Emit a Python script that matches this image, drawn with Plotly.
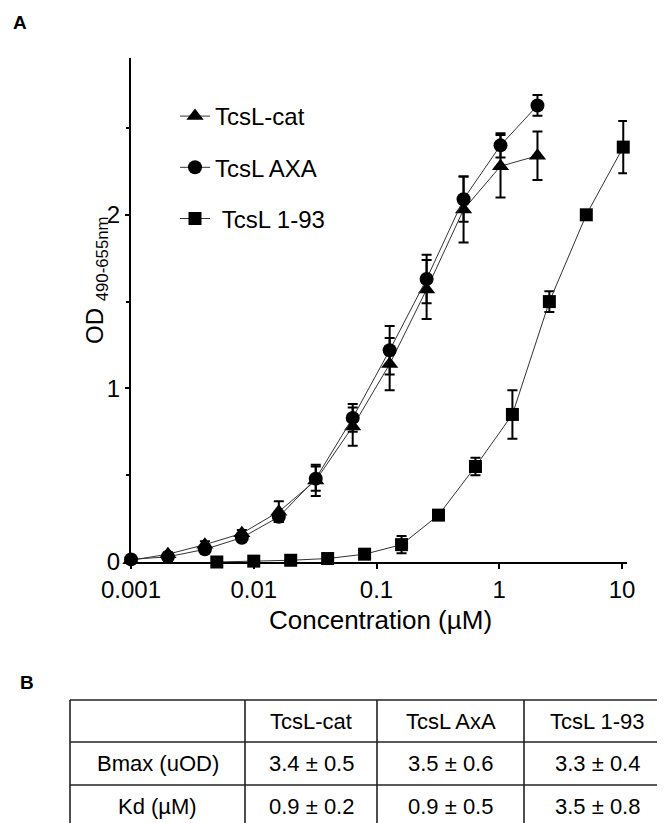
import plotly.graph_objects as go

# The page body adds an 8 px margin, so the figure is drawn 8 px in from the corner.
OFF = 8
W, H = 665 - OFF, 823 - OFF

# ---------------- data ----------------
conc_cat = [0.001, 0.002, 0.004, 0.008, 0.016, 0.032, 0.064, 0.128, 0.256, 0.512, 1.024, 2.048]
od_cat = [0.01, 0.045, 0.10, 0.165, 0.29, 0.47, 0.78, 1.14, 1.57, 2.03, 2.28, 2.34]
err_cat = [0.01, 0.01, 0.02, 0.02, 0.06, 0.09, 0.11, 0.15, 0.17, 0.19, 0.18, 0.14]

conc_axa = [0.001, 0.002, 0.004, 0.008, 0.016, 0.032, 0.064, 0.128, 0.256, 0.512, 1.024, 2.048]
od_axa = [0.015, 0.03, 0.073, 0.14, 0.26, 0.48, 0.83, 1.22, 1.63, 2.09, 2.40, 2.63]
err_axa = [0.01, 0.01, 0.01, 0.02, 0.03, 0.07, 0.08, 0.14, 0.14, 0.13, 0.07, 0.06]

conc_193 = [0.005, 0.01, 0.02, 0.04, 0.08, 0.16, 0.32, 0.64, 1.28, 2.56, 5.12, 10.24]
od_193 = [0.0, 0.005, 0.01, 0.02, 0.045, 0.10, 0.27, 0.55, 0.85, 1.50, 2.00, 2.39]
err_193 = [0.0, 0.0, 0.0, 0.01, 0.01, 0.05, 0.01, 0.05, 0.14, 0.06, 0.01, 0.15]

series_names = ["TcsL-cat", "TcsL AXA", "\u00a0TcsL 1-93"]
series_symbols = ["triangle-up", "circle", "square"]

x_tickvals = [0.001, 0.01, 0.1, 1, 10]
x_ticktext = ["0.001", "0.01", "0.1", "1", "10"]
y_tickvals = [0, 1, 2]
y_ticktext = ["0", "1", "2"]

table_header = ["", "TcsL-cat", "TcsL AxA", "TcsL 1-93"]
table_rows = [
    ["Bmax (uOD)", "3.4 \u00b1 0.5", "3.5 \u00b1 0.6", "3.3 \u00b1 0.4"],
    ["Kd (\u00b5M)", "0.9 \u00b1 0.2", "0.9 \u00b1 0.5", "3.5 \u00b1 0.8"],
]

# ---------------- layout helpers (screen pixel -> paper) ----------------
def px(x):
    return (x - OFF) / W

def py(y):
    return 1 - (y - OFF) / H

FONT = "Liberation Sans, Arial, Helvetica, sans-serif"

fig = go.Figure()
sizes = [15, 14, 13]
for xs, ys, es, name, sym, sz in zip(
    [conc_cat, conc_axa, conc_193],
    [od_cat, od_axa, od_193],
    [err_cat, err_axa, err_193],
    series_names, series_symbols, sizes,
):
    fig.add_trace(go.Scatter(
        x=xs, y=ys, name=name, mode="lines+markers",
        line=dict(color="#333333", width=1),
        marker=dict(symbol=sym, size=sz, color="black"),
        error_y=dict(type="data", array=es, visible=True, color="black",
                     thickness=2, width=5),
        cliponaxis=False, legendgroup=name,
    ))

# axis geometry (screen pixels)
ax_l, ax_r, ax_t, ax_b = 131, 627, 58, 562
decade = (622 - 131) / 4.0
x_hi = -3 + (ax_r - ax_l) / decade
unit = (ax_b - 128) / 2.5
y_hi = (ax_b - ax_t) / unit

fig.update_layout(
    template="none",
    width=W, height=H,
    margin=dict(l=0, r=0, t=0, b=0, pad=0, autoexpand=False),
    paper_bgcolor="white", plot_bgcolor="white",
    font=dict(family=FONT, color="black", size=22),
    showlegend=True,
    legend=dict(x=px(175), y=py(94), xanchor="left", yanchor="top",
                font=dict(size=24, family=FONT), traceorder="grouped",
                tracegroupgap=17, bgcolor="rgba(0,0,0,0)", itemwidth=30,
                borderwidth=0),
    xaxis=dict(
        type="log", domain=[px(ax_l), px(ax_r)], range=[-3, x_hi],
        automargin=False,
        showline=True, linecolor="black", linewidth=2,
        ticks="outside", ticklen=5, tickwidth=2, tickcolor="black",
        tickvals=x_tickvals, ticktext=x_ticktext,
        tickfont=dict(size=24, family=FONT),
        showgrid=False, zeroline=False,
    ),
    yaxis=dict(
        domain=[py(ax_b), py(ax_t)], range=[0, y_hi],
        automargin=False,
        showline=True, linecolor="black", linewidth=2,
        ticks="outside", ticklen=4, tickwidth=2, tickcolor="black",
        tickvals=y_tickvals, ticktext=y_ticktext,
        tickfont=dict(size=24, family=FONT),
        minor=dict(dtick=0.5, ticks="outside", ticklen=3, tickwidth=1.5, tickcolor="black"),
        showgrid=False, zeroline=False,
    ),
)

def label(x, y, text, size, angle=0):
    return dict(x=px(x), y=py(y), xref="paper", yref="paper", text=text,
                showarrow=False, xanchor="center", yanchor="middle",
                textangle=angle, font=dict(size=size, family=FONT, color="black"))

ann = []
ann.append(label(380, 620, "Concentration (\u00b5M)", 26))
ann.append(label(96, 280, "OD <sub>490-655nm</sub>", 24, -90))
ann.append(label(20, 22, "<b>A</b>", 19))
ann.append(label(27, 682, "<b>B</b>", 19))

# table
col_edges = [70, 245, 377, 524, 671]
row_edges = [700, 742, 785, 828]
shapes = []
for ry in row_edges:
    shapes.append(dict(type="line", xref="paper", yref="paper",
                       x0=px(col_edges[0]), x1=px(col_edges[-1]), y0=py(ry), y1=py(ry),
                       line=dict(color="#222222", width=1.6)))
for cx in col_edges:
    shapes.append(dict(type="line", xref="paper", yref="paper",
                       x0=px(cx), x1=px(cx), y0=py(row_edges[0]), y1=py(row_edges[-1]),
                       line=dict(color="#222222", width=1.6)))

all_rows = [table_header] + table_rows
for ri, row in enumerate(all_rows):
    yc = (row_edges[ri] + row_edges[ri + 1]) / 2
    for ci, cell in enumerate(row):
        if not cell:
            continue
        xc = (col_edges[ci] + col_edges[ci + 1]) / 2
        ann.append(label(xc, yc, cell, 22))

fig.update_layout(annotations=ann, shapes=shapes)
fig.write_html("out.html")
